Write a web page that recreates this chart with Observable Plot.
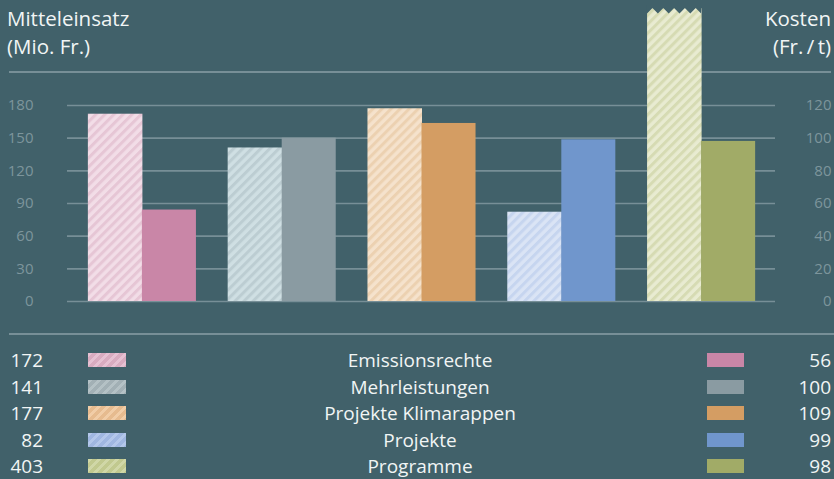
<!DOCTYPE html>
<html><head><meta charset="utf-8">
<script src="https://cdn.jsdelivr.net/npm/d3@7"></script>
<script src="https://cdn.jsdelivr.net/npm/@observablehq/plot@0.6"></script>
<style>
html,body{margin:0;padding:0;background:#41616a;}
#wrap{position:relative;width:834px;height:479px;background:#41616a;font-family:"Open Sans",sans-serif;color:#f1f5f5;overflow:hidden}
.hline{position:absolute;height:2px;background:#778f97}
.title{position:absolute;font-size:20.5px;line-height:24px;height:24px;white-space:nowrap}
#chart{position:absolute;left:0;top:0}
.row{position:absolute;left:0;width:834px;height:26px;line-height:26px;font-size:19px;white-space:nowrap}
.row div{position:absolute;top:0}
.sw{height:14px;top:6px!important}
</style></head><body><div id="wrap">
<div class="hline" style="left:9px;width:822px;top:71px"></div>
<div class="hline" style="left:9px;width:825px;top:333px"></div>
<div id="chart"></div>
<div class="title" style="left:7px;top:6px">Mitteleinsatz</div>
<div class="title" style="left:7px;top:34px">(Mio. Fr.)</div>
<div class="title" style="right:3px;top:6px;text-align:right">Kosten</div>
<div class="title" style="right:3px;top:34px;text-align:right">(Fr.&#8201;/&#8201;t)</div>
<div id="legend"></div>
</div>
<script>
const categories = ["Emissionsrechte","Mehrleistungen","Projekte Klimarappen","Projekte","Programme"];
const mitteleinsatz = [172,141,177,82,403];   // Mio. Fr. (left axis)
const kosten = [56,100,109,99,98];            // Fr./t (right axis)
const leftTicks = [0,30,60,90,120,150,180];
const rightTicks = [0,20,40,60,80,100,120];
const solidColors = ["#c986a7","#8a9ba2","#d49d63","#7096cc","#a1ab67"];
const hatchBase = ["#f2dde7","#cfdfe3","#f5e2cc","#dae4f5","#e8ebd1"];
const hatchStripe = ["#e6c6d5","#bccdd2","#ecd1b1","#c6d5ef","#d6dbb3"];
const legendBase = ["#e6c0d2","#b4c1c5","#f1cda7","#b3c7ea","#d0d7a7"];
const legendStripe = ["#d9abc0","#a2b0b5","#e6bb8f","#a0b7e1","#c1c98f"];

const bg = "#41616a";
const k2m = 180 / 120;         // right-axis units -> left-axis units
const yBreak = 269;            // bars taller than this are cut with a zigzag
const xRange = [72, 771];
const padInner = 0.227;
const bw = (xRange[1]-xRange[0]) / categories.length * (1 - padInner);
const half = bw / 2;

const rows = categories.map((c,i)=>({cat:c, m:mitteleinsatz[i], k:kosten[i], i}));

const defsMark = () => {
  const g = d3.create("svg:g");
  const defs = g.append("defs");
  categories.forEach((c,i)=>{
    const p = defs.append("pattern").attr("id","hatch"+i)
      .attr("patternUnits","userSpaceOnUse").attr("width",6.4).attr("height",6.4)
      .attr("patternTransform","rotate(45)");
    p.append("rect").attr("width",6.4).attr("height",6.4).attr("fill",hatchBase[i]);
    p.append("rect").attr("width",3).attr("height",6.4).attr("fill",hatchStripe[i]);
  });
  return g.node();
};

const zigzagMark = (index, scales) => {
  const x = scales.x, y = scales.y;
  const g = d3.create("svg:g");
  rows.filter(d => d.m > yBreak).forEach(d => {
    const x0 = x(d.cat), top = y(yBreak), t = 5.5;
    const pts = [[x0-1, top-3]];
    for (let k = 0; k <= 10; k++) pts.push([x0 + k*half/10, top + (k%2===0 ? t : 0)]);
    pts.push([x0+half+0.5, top-3]);
    g.append("polygon").attr("points", pts.map(p=>p.join(",")).join(" ")).attr("fill", bg);
  });
  return g.node();
};

const marks = [
  defsMark,
  Plot.ruleY(leftTicks, {stroke:"#778f97", strokeWidth:1.6}),
  ...rows.map(d => Plot.barY([d], {x:"cat", y1:0, y2: r => Math.min(r.m, yBreak), fill:`url(#hatch${d.i})`, insetLeft:0, insetRight: half - 0.5})),
  ...rows.map(d => Plot.barY([d], {x:"cat", y1:0, y2: r => r.k * k2m, fill: solidColors[d.i], insetLeft: half, insetRight:0})),
  zigzagMark,
  Plot.axisY(leftTicks, {anchor:"left", tickSize:0, tickPadding:34, fontSize:15, fill:"#7d959c", label:null}),
  Plot.axisY(rightTicks.map(v=>v*k2m), {anchor:"right", tickSize:0, tickPadding:56, textAnchor:"end", tickFormat: v => String(Math.round(v/k2m)), fontSize:15, fill:"#7d959c", label:null})
];

const chart = Plot.plot({
  width: 834, height: 334,
  marginLeft: 67, marginRight: 59, marginTop: 0, marginBottom: 0,
  style: {background:"transparent", fontFamily:'"Open Sans",sans-serif', fontSize:"15px", overflow:"visible"},
  x: {domain: categories, range: xRange, paddingInner: padInner, paddingOuter: padInner/2, round: false, axis: null},
  y: {domain: [0,180], range: [301,105], axis: null},
  marks
});
document.getElementById("chart").appendChild(chart);

const legend = document.getElementById("legend");
rows.forEach((d,i) => {
  const r = document.createElement("div");
  r.className = "row";
  r.style.top = (347 + i*26.5) + "px";
  r.innerHTML =
    `<div style="left:0;width:43px;text-align:right">${d.m}</div>` +
    `<div class="sw" style="left:88px;width:38px;background:repeating-linear-gradient(135deg, ${legendBase[i]} 0 3.2px, ${legendStripe[i]} 3.2px 6.4px)"></div>` +
    `<div style="left:220px;width:400px;text-align:center">${d.cat}</div>` +
    `<div class="sw" style="left:707px;width:37px;background:${solidColors[i]}"></div>` +
    `<div style="right:3px;text-align:right">${d.k}</div>`;
  legend.appendChild(r);
});
</script>
</body></html>
